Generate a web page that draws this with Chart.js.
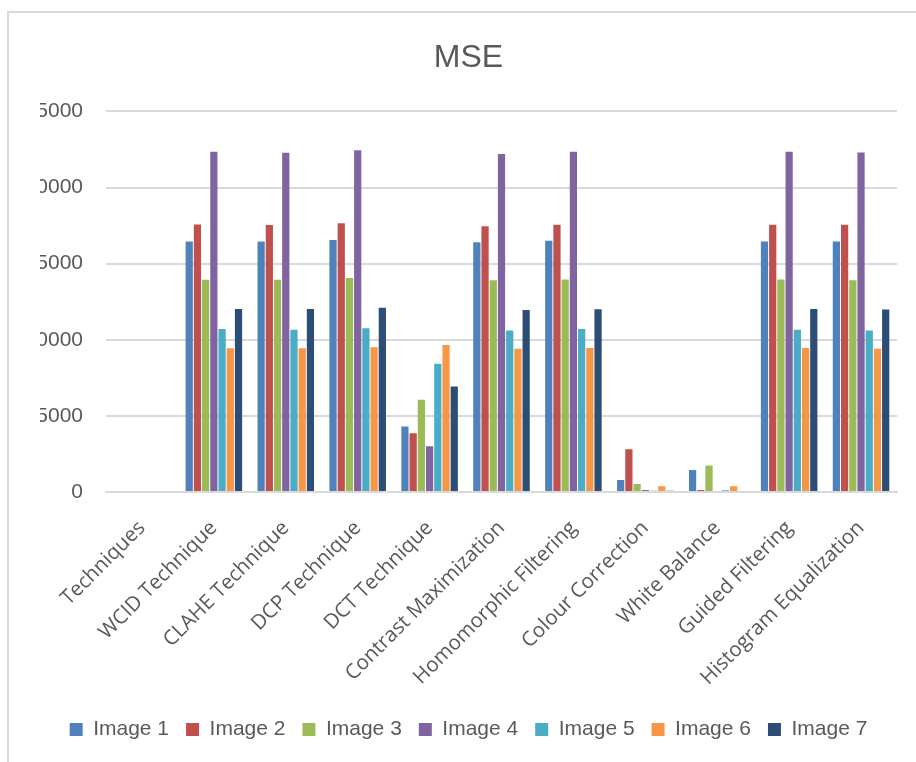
<!DOCTYPE html>
<html>
<head>
<meta charset="utf-8">
<script src="https://cdn.jsdelivr.net/npm/chart.js@4/dist/chart.umd.min.js"></script>
<style>
  html, body { margin: 0; padding: 0; background: #fff; }
  #wrap { position: relative; width: 916px; height: 762px; overflow: hidden; }
  #frame { position: absolute; left: 7px; top: 11px; width: 1000px; height: 1000px; border: 2px solid #d9d9d9; box-sizing: border-box; }
  canvas { position: absolute; left: 0; top: 0; }
</style>
</head>
<body>
<div id="wrap">
  <div id="frame"></div>
  <canvas id="mse" width="916" height="762"></canvas>
</div>
<script>
const techniques = ['Techniques', 'WCID Technique', 'CLAHE Technique', 'DCP Technique', 'DCT Technique',
  'Contrast Maximization', 'Homomorphic Filtering', 'Colour Correction', 'White Balance',
  'Guided Filtering', 'Histogram Equalization'];

const image1 = [null, 16460, 16460, 16550, 4300, 16400, 16500, 780, 1440, 16460, 16450];
const image2 = [null, 17570, 17530, 17650, 3850, 17450, 17550, 2800, 130, 17550, 17550];
const image3 = [null, 13940, 13940, 14050, 6060, 13900, 13950, 520, 1740, 13950, 13900];
const image4 = [null, 22350, 22290, 22450, 3000, 22200, 22350, 130, 60, 22350, 22300];
const image5 = [null, 10700, 10650, 10750, 8430, 10600, 10700, 80, 120, 10650, 10600];
const image6 = [null, 9440, 9440, 9500, 9650, 9400, 9450, 370, 370, 9450, 9400];
const image7 = [null, 12020, 12020, 12100, 6930, 11950, 12000, 80, 70, 12020, 11980];

const seriesNames = ['Image 1', 'Image 2', 'Image 3', 'Image 4', 'Image 5', 'Image 6', 'Image 7'];
const seriesData = [image1, image2, image3, image4, image5, image6, image7];
const colours = ['#4F81BD', '#C0504D', '#9BBB59', '#8064A2', '#4BACC6', '#F79646', '#2C4D75'];

const yTicks = [0, 5000, 10000, 15000, 20000, 25000];

new Chart(document.getElementById('mse'), {
  type: 'bar',
  data: {
    labels: techniques,
    datasets: seriesNames.map((name, i) => ({
      label: name,
      data: seriesData[i],
      backgroundColor: colours[i],
      categoryPercentage: 0.8,
      barPercentage: 0.88
    }))
  },
  options: {
    responsive: false,
    animation: false,
    layout: { padding: { left: 40, right: 19, top: 0, bottom: 12 } },
    plugins: {
      title: {
        display: true,
        text: 'MSE',
        color: '#595959',
        font: { family: 'Liberation Sans, Arial, sans-serif', size: 32, weight: 'normal' },
        padding: { top: 39, bottom: 34 }
      },
      legend: {
        position: 'bottom',
        labels: {
          color: '#595959',
          font: { family: 'Liberation Sans, Arial, sans-serif', size: 21 },
          boxWidth: 13,
          boxHeight: 13,
          padding: 17
        }
      },
      tooltip: { enabled: false }
    },
    scales: {
      x: {
        grid: { display: false },
        border: { color: '#d9d9d9', width: 2 },
        ticks: {
          color: '#595959',
          font: { family: 'Open Sans, sans-serif', size: 20.5 },
          maxRotation: 45,
          minRotation: 45,
          padding: 16
        },
        // first rotated label may hang past the axis, like in excel
        afterFit: axis => {
          axis.paddingLeft = 0;
          axis.height -= 4;
        }
      },
      y: {
        min: 0,
        max: 25000,
        afterBuildTicks: axis => { axis.ticks = yTicks.map(v => ({ value: v })); },
        // labels are right aligned, so they may spill left of the box
        afterFit: axis => { axis.width = 66; },
        grid: { color: '#d9d9d9', lineWidth: 2, drawTicks: false },
        border: { display: false },
        ticks: {
          color: '#595959',
          font: { family: 'Liberation Sans, Arial, sans-serif', size: 21 },
          padding: 23,
          callback: v => String(v)
        }
      }
    }
  }
});
</script>
</body>
</html>
